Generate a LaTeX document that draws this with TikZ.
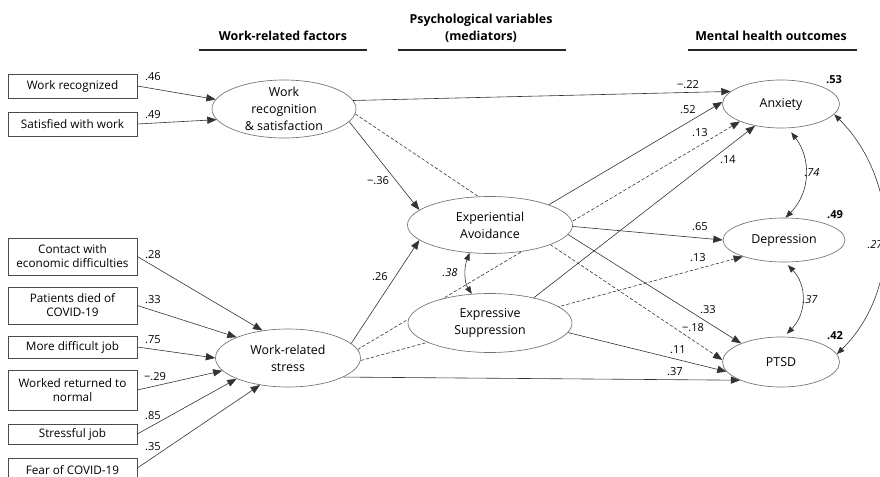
\documentclass[tikz,border=0pt]{standalone}
\usepackage{fontspec}
\setmainfont{Open Sans}
\usetikzlibrary{shapes.geometric,arrows.meta}
\pgfdeclarelayer{bg}
\pgfsetlayers{bg,main}
\begin{document}
\begin{tikzpicture}[x=0.75pt,y=-0.75pt,
  box/.style={draw=black!70, line width=0.5pt, minimum width=96.75pt, inner sep=0pt, align=center, font=\fontsize{8.8}{10.5}\selectfont},
  lat/.style={ellipse, draw=black!55, fill=white, line width=0.5pt, inner sep=0pt},
  ltxt/.style={align=center, inner sep=0pt, font=\fontsize{9.3}{12.75}\selectfont},
  coef/.style={inner sep=0pt, font=\fontsize{8.3}{10}\selectfont},
  covl/.style={inner sep=0pt, font=\itshape\fontsize{8.3}{10}\selectfont},
  rsq/.style={inner sep=0pt, font=\bfseries\fontsize{8.3}{10}\selectfont},
  hdr/.style={inner sep=0pt, align=center, font=\bfseries\fontsize{9.3}{12.75}\selectfont},
  arr/.style={draw=black!80, line width=0.45pt, -{Triangle[length=7pt,width=5.4pt]}},
  dsh/.style={arr, dash pattern=on 2.5pt off 1.5pt},
  dbl/.style={draw=black!80, line width=0.45pt, {Triangle[length=5.6pt,width=4.4pt]}-{Triangle[length=5.6pt,width=4.4pt]}},
  hline/.style={draw=black!85, line width=1.2pt}
]
\useasboundingbox (0,0) rectangle (880,477);

% headers
\node[hdr] (h1) at (283,36) {Work-related factors};
\node[hdr] (h2) at (481,28) {Psychological variables\\(mediators)};
\node[hdr] (h3) at (771,36) {Mental health outcomes};
\draw[hline] (199,50) -- (367,50);
\draw[hline] (398,50) -- (566,50);
\draw[hline] (688,50) -- (857,50);

% indicator boxes
\node[box, minimum height=18pt] (b1) at (72.5,86) {Work recognized};
\node[box, minimum height=18pt] (b2) at (72.5,124) {Satisfied with work};
\node[box, minimum height=27.75pt] (b3) at (72.5,256.5) {Contact with\\economic difficulties};
\node[box, minimum height=27.75pt] (b4) at (72.5,305.5) {Patients died of\\COVID-19};
\node[box, minimum height=16.5pt] (b5) at (72.5,347) {More difficult job};
\node[box, minimum height=30pt] (b6) at (72.5,390) {Worked returned to\\normal};
\node[box, minimum height=15pt] (b7) at (72.5,434) {Stressful job};
\node[box, minimum height=18pt] (b8) at (72.5,470) {Fear of COVID-19};

% latent variables
\node[lat, minimum width=108pt, minimum height=43.5pt] (wrf) at (284,109) {};
\node[ltxt] (wrft) at (284,109) {Work\\recognition\\\& satisfaction};
\node[lat, minimum width=108.75pt, minimum height=43.5pt] (wrs) at (288,358) {};
\node[ltxt] (wrst) at (288,358) {Work-related\\stress};
\node[lat, minimum width=123.75pt, minimum height=42.75pt] (ea) at (490,225) {};
\node[ltxt] (eat) at (490,225) {Experiential\\Avoidance};
\node[lat, minimum width=123pt, minimum height=44.25pt] (es) at (490,323) {};
\node[ltxt] (est) at (490,323) {Expressive\\Suppression};
\node[lat, minimum width=87.75pt, minimum height=36pt] (anx) at (781,104) {};
\node[ltxt] (anxt) at (781,104) {Anxiety};
\node[lat, minimum width=91.5pt, minimum height=33pt] (dep) at (784,240) {};
\node[ltxt] (dept) at (784,240) {Depression};
\node[lat, minimum width=87.75pt, minimum height=37.5pt] (ptsd) at (781,362) {};
\node[ltxt] (ptsdt) at (781,362) {PTSD};

% dashed paths behind ellipses
\begin{pgfonlayer}{bg}
\draw[dsh] (wrf.356) -- (ptsd.178);
\draw[dsh] (wrs.7) -- (anx.203);
\draw[dsh] (wrs.358) -- (dep.202);
\end{pgfonlayer}

% measurement arrows
\draw[arr] (b1.east) -- (wrf.172);
\draw[arr] (b2.east) -- (wrf.189);
\draw[arr] (b3.east) -- (wrs.133);
\draw[arr] (b4.east) -- (wrs.158);
\draw[arr] (b5.east) -- (wrs.180);
\draw[arr] (b6.east) -- (wrs.191);
\draw[arr] (b7.east) -- (wrs.202);
\draw[arr] ([yshift=1.5pt]b8.east) -- (wrs.224);

% structural arrows
\draw[arr] (wrf.7) -- (anx.166);
\draw[arr] (wrf.349) -- (ea.168);
\draw[arr] (wrs.13) -- (ea.192);
\draw[arr] (wrs.341) -- (ptsd.204);
\draw[arr] (ea.19) -- (anx.178);
\draw[arr] (ea.359) -- (dep.180);
\draw[arr] (ea.353) -- (ptsd.155);
\draw[arr] (es.30) -- (anx.220);
\draw[arr] (es.353) -- (ptsd.190);

% covariances
\draw[dbl] (ea.234) .. controls (464,267) and (464,282) .. (es.122);
\draw[dbl, shorten <=4pt] (anx.286) .. controls (811,158) and (811,192) .. (dep.86);
\draw[dbl, shorten <=3pt, shorten >=3pt] (dep.273) .. controls (807,285) and (807,313) .. (ptsd.83);
\draw[dbl] (anx.349) .. controls (900,180) and (902,290) .. (ptsd.8);

% coefficients
\node[coef] (c1) at (153,77) {.46};
\node[coef] (c2) at (153,115) {.49};
\node[coef] (c3) at (153,255) {.28};
\node[coef] (c4) at (153,300) {.33};
\node[coef] (c5) at (153,340) {.75};
\node[coef] (c6) at (155,377) {\char"2212.29};
\node[coef] (c7) at (153,416) {.85};
\node[coef] (c8) at (153,447) {.35};
\node[coef] (c9) at (378,181) {\char"2212.36};
\node[coef] (c10) at (380,277) {.26};
\node[coef] (c11) at (688,85) {\char"2212.22};
\node[coef] (c12) at (688,110) {.52};
\node[coef] (c13) at (700,133) {.13};
\node[coef] (c14) at (728,160) {.14};
\node[coef] (c15) at (700,227) {.65};
\node[coef] (c16) at (698,258) {.13};
\node[coef] (c17) at (708,310) {.33};
\node[coef] (c18) at (693,328) {\char"2212.18};
\node[coef] (c19) at (678,350) {.11};
\node[coef] (c20) at (675,372) {.37};
\node[covl] (v1) at (450,273) {.38};
\node[covl] (v2) at (812,173) {.74};
\node[covl] (v3) at (810,300) {.37};
\node[covl] (v4) at (875,245) {.27};
\node[rsq] (r1) at (834,80) {.53};
\node[rsq] (r2) at (835,215) {.49};
\node[rsq] (r3) at (835,336) {.42};
\end{tikzpicture}
\end{document}
